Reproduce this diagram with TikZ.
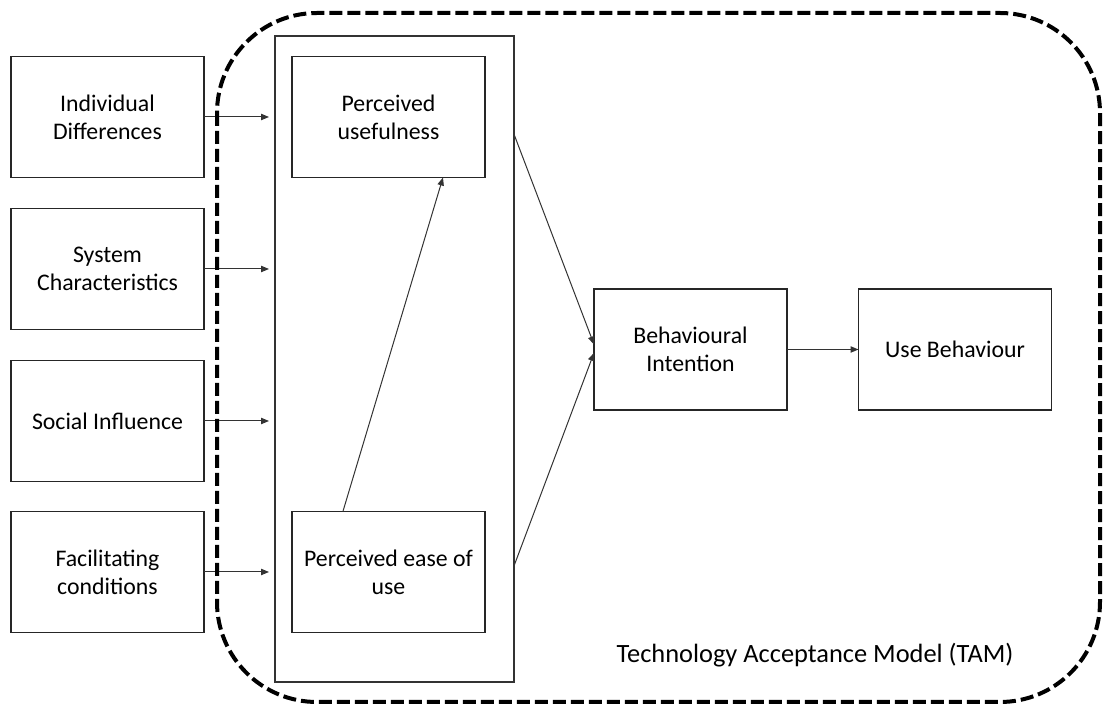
\documentclass[tikz,border=0pt]{standalone}
\usepackage{fontspec}
\setmainfont{Carlito}
\usepackage{tikz}
\usetikzlibrary{arrows.meta}
\tikzset{
  fac/.style={draw=black!85,line width=0.8pt,minimum width=96.5pt,minimum height=60.5pt,inner sep=2pt,outer sep=0pt,align=center,font=\fontsize{11.9}{13.9}\selectfont},
  core/.style={draw=black!80,line width=0.6pt,minimum width=119.5pt,minimum height=323pt,inner sep=0pt,outer sep=0pt},
  lnk/.style={draw=black!80,line width=0.5pt,-{Triangle[length=4pt,width=3.2pt]}},
  tamb/.style={line width=2pt,dash pattern=on 6.5pt off 2.5pt,rounded corners=50pt}
}

\begin{document}
\begin{tikzpicture}[x=0.5pt,y=0.5pt]
\useasboundingbox (0,0) rectangle (1104,706);
% external factors
\node[fac] (idiff) at (107.5,589) {Individual\\Differences};
\node[fac] (sysc) at (107.5,437) {System\\Characteristics};
\node[fac] (socinf) at (107.5,285) {Social Influence};
\node[fac] (facc) at (107.5,134) {Facilitating\\conditions};
% TAM core
\node[core] (tamcore) at (394.5,347) {};
\node[fac] (pu) at (388.5,589) {Perceived\\usefulness};
\node[fac] (peou) at (388.5,134) {Perceived ease of\\use};
\node[fac] (bi) at (690.5,356.5) {Behavioural\\Intention};
\node[fac] (ub) at (955,356.5) {Use Behaviour};
% links
\foreach \n in {idiff,sysc,socinf,facc}
  \draw[lnk,shorten >=3pt] (\n.east) -- (\n.east -| tamcore.west);
\draw[lnk] (peou.127) -- (pu.-48);
\draw[lnk] (tamcore.62) -- (bi.177);
\draw[lnk] (tamcore.-60.5) -- (bi.182);
\draw[lnk] (bi.east) -- (ub.west);
% boundary
\draw[tamb] (217,693) rectangle (1100,4);
\node[anchor=base,font=\fontsize{13.2}{15}\selectfont] (tamlbl) at (815,43) {Technology Acceptance Model (TAM)};
\end{tikzpicture}
\end{document}
